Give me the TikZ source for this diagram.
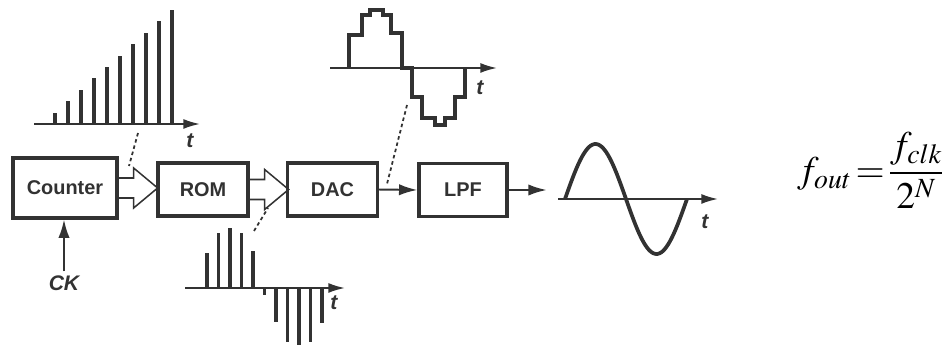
\documentclass[tikz,border=0pt]{standalone}
\usepackage{mathptmx}
\usepackage{fontspec}
\setsansfont{Liberation Sans}
\usetikzlibrary{arrows.meta,calc}
\definecolor{graphite}{RGB}{50,50,50}
\tikzset{
  >={Latex[length=5.5mm,width=3.4mm]},
  block/.style={draw=graphite,line width=2.8pt,fill=white,minimum width=#1,
    minimum height=15.9mm,font=\sffamily\bfseries\fontsize{17}{20}\selectfont,text=graphite},
  block/.default=27mm,
  sig/.style={->,line width=1.7pt,draw=graphite},
  axis/.style={-{Latex[length=5mm,width=3mm]},line width=1.6pt,draw=graphite},
  spike/.style={line width=3.3pt,draw=graphite},
  trace/.style={line width=2.8pt,draw=graphite},
  callout/.style={line width=1.5pt,draw=graphite,dash pattern=on 3pt off 2.5pt},
  tlabel/.style={font=\sffamily\bfseries\itshape\fontsize{18}{20}\selectfont,text=graphite},
  % bus arrow between blocks
  pics/bus/.style={code={
    \draw[graphite,line width=1.3pt] (0,-10) -- (15,-10) -- (15,-20) -- (39,0) -- (15,20) -- (15,10) -- (0,10);
  }},
}
\begin{document}
\begin{tikzpicture}[x=0.3mm,y=-0.3mm]
  \useasboundingbox (0,0) rectangle (943,345);
  % blocks
  \node[block=31.2mm,minimum height=18mm] (cnt) at (65,188) {Counter};
  \node[block] (rom) at (203,189.5) {ROM};
  \node[block] (dac) at (332.5,189.5) {DAC};
  \node[block=26.4mm] (lpf) at (463,190) {LPF};
  \pic at (cnt.east) {bus};
  \pic at (rom.east) {bus};
  \draw[sig] (dac.east) -- (lpf.west);
  \coordinate (out) at ($(lpf.east)+(38,0)$);
  \draw[sig] (lpf.east) -- (out);
  \node[tlabel] (ck) at (64,283) {CK};
  \draw[sig] (ck.north) -- (ck.north |- cnt.south);

  % counter output
  \draw[axis] (34,124) -- (200,124);
  \foreach \i in {1,...,10}
    \draw[spike] (42+13*\i,124) -- ++(0,-11.4*\i);
  \node[tlabel] (t1) at (190,141) {t};

  % ROM output
  \draw[axis] (185,288) -- (345,288);
  \foreach \h [count=\k from 0] in {35,55,60,55,37,-7,-34,-54,-57,-54,-35}
    \draw[spike] (207+11.5*\k,288) -- ++(0,{-(\h)});
  \node[tlabel] (t2) at (334,303) {t};

  % DAC output
  \draw[axis] (330,68) -- (497,68);
  \draw[trace] (349,68) |- (362,35) |- (370,15) |- (383,10) |- (391,15) |- (402,33)
    |- (412,68) |- (422,97) |- (435,118) |- (445,125) |- (455,118) |- (465,97) -- (465,68);
  \node[tlabel] (t3) at (480,88) {t};

  % LPF output
  \draw[axis] (558,199) -- (718,199);
  \draw[trace,line width=3.2pt] plot[domain=0:360,samples=72,smooth]
    ({565+\x/360*122},{199-55*sin(\x)});
  \node[tlabel] (t4) at (705,222) {t};

  % call-outs
  \coordinate (c1a) at (138,133); \coordinate (c1b) at (129,166);
  \coordinate (c2a) at (254,231); \coordinate (c2b) at (268,208);
  \coordinate (c3a) at (407,105); \coordinate (c3b) at (387,184);
  \draw[callout] (c1a) -- (c1b);
  \draw[callout] (c2a) -- (c2b);
  \draw[callout] (c3a) -- (c3b);

  % output frequency
  \node[anchor=west,inner sep=0pt,font=\fontsize{32}{38}\selectfont] (fout) at (797,170)
    {$\displaystyle f_{out}\mkern-2mu=\mkern-2mu\frac{f_{clk}}{2^N}$};
\end{tikzpicture}
\end{document}
